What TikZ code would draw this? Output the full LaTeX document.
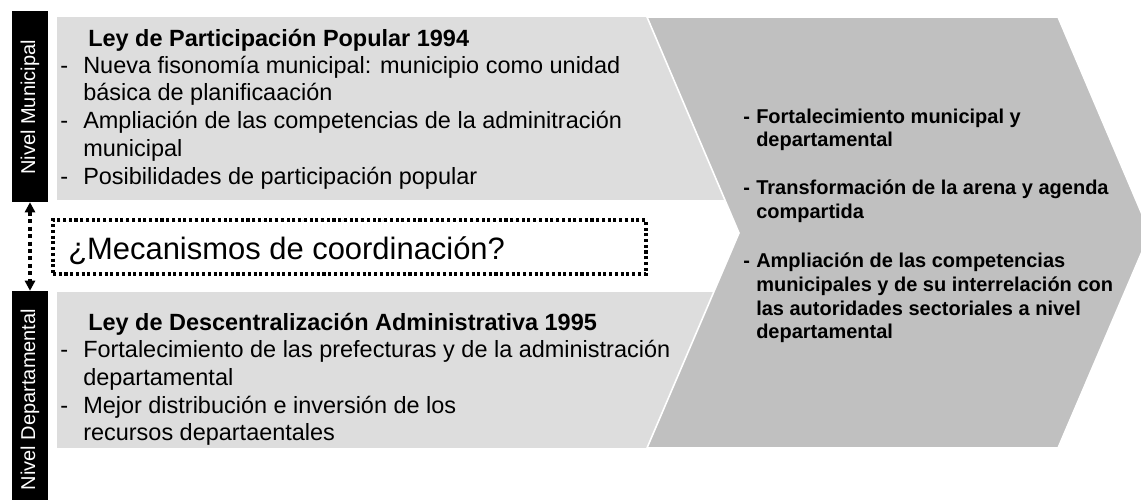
\documentclass[tikz,border=0pt]{standalone}
\usepackage{fontspec}
\setmainfont{Liberation Sans}
\usetikzlibrary{fit,arrows.meta}
\definecolor{boxgray}{RGB}{221,221,221}
\definecolor{chevgray}{RGB}{192,192,192}
\tikzset{
  bar/.style={fill=black, inner sep=0pt},
  lbox/.style={fill=boxgray, inner sep=0pt},
  ln/.style={anchor=base west, inner sep=0pt, font=\fontsize{17.6}{20}\selectfont},
  lt/.style={anchor=base west, inner sep=0pt, font=\fontsize{17.6}{20}\selectfont\bfseries},
  rn/.style={anchor=base west, inner sep=0pt, font=\fontsize{15}{17}\selectfont\bfseries},
  vlab/.style={rotate=90, text=white, font=\fontsize{15}{17}\selectfont, inner sep=0pt},
  dotbox/.style={draw=black, line width=2.4pt, dash pattern=on 2.3pt off 2pt, fill=white, inner sep=0pt},
  dotarrow/.style={line width=2.8pt, dash pattern=on 3pt off 2.6pt,
    {Triangle[width=7.5pt,length=7.5pt]}-{Triangle[width=7.5pt,length=7.5pt]}},
}
\begin{document}
\begin{tikzpicture}[x=0.75pt,y=-0.75pt]
\useasboundingbox (0,0) rectangle (1141,500);
\begin{scope}
\clip (0,0) rectangle (1141,500);
% light boxes
\node[lbox, fit={(57,17)(800,200)}] (topbox) {};
\node[lbox, fit={(57,292)(800,448)}] (botbox) {};
% chevron
\fill[chevgray, draw=white, line width=1.2pt] (647,17) -- (1058,17) -- (1150,233) -- (1058,448) -- (647,448) -- (739,233) -- cycle;
% black bars
\node[bar, fit={(12,11)(48,202)}] (munbar) {};
\node[bar, fit={(12,291)(48,500)}] (depbar) {};
\node[vlab] (munlab) at (30,107.5) {Nivel Municipal};
\node[vlab] (deplab) at (30,399.5) {Nivel Departamental};
\draw[dotarrow] (munbar.south) -- (depbar.north);
% dotted box
\node[dotbox, fit={(53,220)(646,274)}] (mech) {};
\node[anchor=base west, inner sep=0pt, font=\fontsize{23.2}{27}\selectfont] (mechtxt) at (68,259) {¿Mecanismos de coordinación?};
% top box text
\node[lt] (tt) at (88,46.5) {Ley de Participación Popular 1994};
\node[ln] (td1) at (60,73) {-};
\node[ln] (t1a) at (83,73) {Nueva fisonomía municipal: municipio como unidad};
\node[ln] (t1b) at (83,100.5) {básica de planificaación};
\node[ln] (td2) at (60,128) {-};
\node[ln] (t2a) at (83,128) {Ampliación de las competencias de la adminitración};
\node[ln] (t2b) at (83,156) {municipal};
\node[ln] (td3) at (60,184) {-};
\node[ln] (t3a) at (83,184) {Posibilidades de participación popular};
% bottom box text
\node[lt] (bt) at (88,330) {Ley de Descentralización Administrativa 1995};
\node[ln] (bd1) at (60,357.5) {-};
\node[ln] (b1a) at (83,357.5) {Fortalecimiento de las prefecturas y de la administración};
\node[ln] (b1b) at (83,385.5) {departamental};
\node[ln] (bd2) at (60,413) {-};
\node[ln] (b2a) at (83,413) {Mejor distribución e inversión de los};
\node[ln] (b2b) at (83,440.5) {recursos departaentales};
% right text
\node[rn] (rd1) at (743,123) {-};
\node[rn] (r1a) at (756,123) {Fortalecimiento municipal y};
\node[rn] (r1b) at (756,146) {departamental};
\node[rn] (rd2) at (743,194) {-};
\node[rn] (r2a) at (756,194) {Transformación de la arena y agenda};
\node[rn] (r2b) at (756,218) {compartida};
\node[rn] (rd3) at (743,267) {-};
\node[rn] (r3a) at (756,267) {Ampliación de las competencias};
\node[rn] (r3b) at (756,291) {municipales y de su interrelación con};
\node[rn] (r3c) at (756,315) {las autoridades sectoriales a nivel};
\node[rn] (r3d) at (756,338) {departamental};
\end{scope}
\end{tikzpicture}
\end{document}
